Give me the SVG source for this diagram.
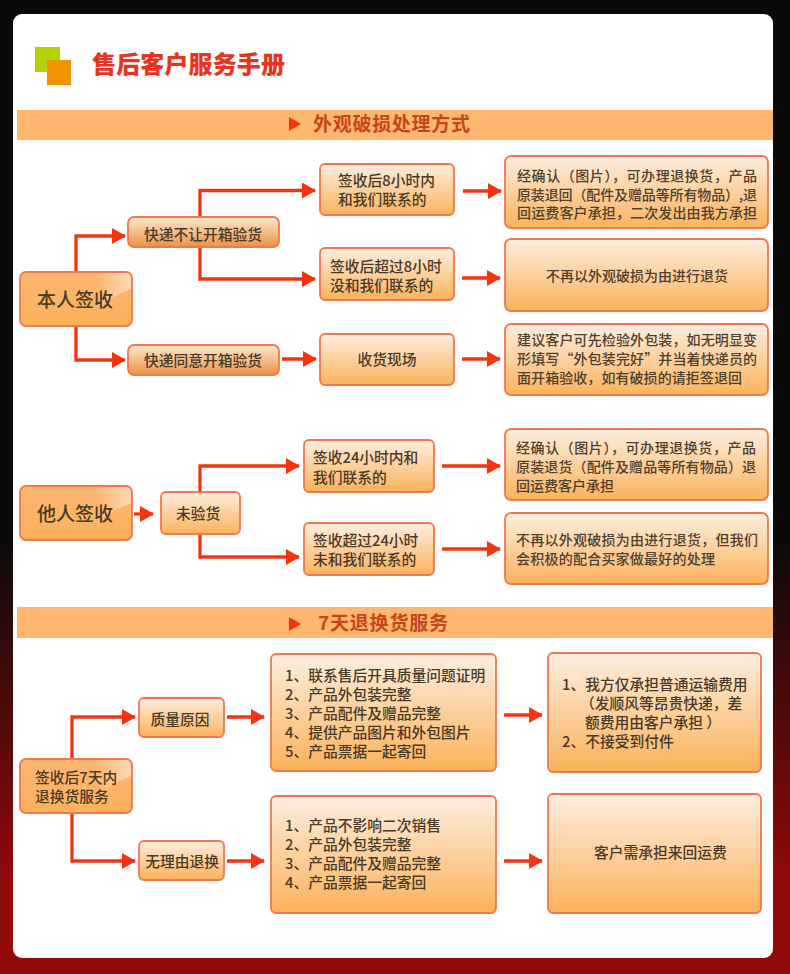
<svg xmlns="http://www.w3.org/2000/svg" width="790" height="974" viewBox="0 0 790 974">
<style>
text{font-family:"Noto Sans CJK SC","Liberation Sans",sans-serif;fill:#50402e;font-size:14px;font-weight:500}
.c{stroke:#f5330f;stroke-width:3.3;fill:none;marker-end:url(#ah)}
.a{fill:url(#ga);stroke:#f0784e;stroke-width:1.8}
.b{fill:url(#gb);stroke:#f0784e;stroke-width:1.8}
.d{fill:url(#gd);stroke:#f0784e;stroke-width:1.8}
.g{fill:url(#gg)}
.m{text-anchor:middle}
.k{font-size:19px;fill:#4a3a28}
.s{font-size:14.75px;fill:#4a3a28}
.h{font-size:19px;font-weight:700;fill:#c8451c}
.ban{fill:#fdb76f}
.tri{fill:#f5330f}
</style>
<defs>
<linearGradient id="bg" x1="0" y1="0" x2="0" y2="1"><stop offset="0.55" stop-color="#0a0a0a"/><stop offset="0.9" stop-color="#900a0a"/></linearGradient>
<linearGradient id="ga" x1="0" y1="0" x2="0" y2="1"><stop offset="0" stop-color="#fdeee0"/><stop offset="1" stop-color="#fbb25a"/></linearGradient>
<linearGradient id="gb" x1="0" y1="0" x2="0" y2="1"><stop offset="0" stop-color="#fde8d2"/><stop offset="1" stop-color="#ea933f"/></linearGradient>
<linearGradient id="gd" x1="0" y1="0" x2="0" y2="1"><stop offset="0" stop-color="#fbb673"/><stop offset="1" stop-color="#fcb159"/></linearGradient>
<linearGradient id="gg" x1="0" y1="0" x2="1" y2="0"><stop offset="0" stop-color="#fff" stop-opacity="0"/><stop offset="1" stop-color="#fff" stop-opacity=".55"/></linearGradient>
<marker id="ah" markerUnits="userSpaceOnUse" markerWidth="14" markerHeight="16" refX="13" refY="8" orient="auto"><path d="M0 0L14 8L0 16Z" fill="#f5330f"/></marker>
</defs>
<rect width="790" height="974" fill="url(#bg)"/>
<rect id="card" x="13" y="14" width="760" height="944" rx="9" fill="#fff"/>
<g id="header">
<rect x="35" y="47" width="25" height="25" fill="#b6d000"/>
<rect x="47" y="60" width="24" height="25" fill="#ef9400"/>
<text x="92" y="73" textLength="193" style="font-size:24px;font-weight:900;fill:#e5351f">售后客户服务手册</text>
</g>
<g id="banner1"><rect class="ban" x="17" y="110" width="756" height="30"/><path class="tri" d="M289 117L301 124L289 131Z"/><text class="h" x="313" y="131" textLength="157">外观破损处理方式</text></g>
<g id="banner2"><rect class="ban" x="17" y="607" width="756" height="31"/><path class="tri" d="M289 617L301 624L289 631Z"/><text class="h" x="318" y="630" textLength="130">7天退换货服务</text></g>
<g id="connectors">
<path class="c" d="M76 271V236H125"/>
<path class="c" d="M76 327V360H125"/>
<path class="c" d="M200 216V190.500H315"/>
<path class="c" d="M200 248V279H315"/>
<path class="c" d="M282 359H316"/>
<path class="c" d="M463 191H501"/>
<path class="c" d="M462 278H500"/>
<path class="c" d="M462 359H500"/>
<path class="c" d="M134 514H153"/>
<path class="c" d="M200 491V466H299"/>
<path class="c" d="M200 535V557H299"/>
<path class="c" d="M442 466H500"/>
<path class="c" d="M442 549H500"/>
<path class="c" d="M72 758V717H135"/>
<path class="c" d="M72 814V861H135"/>
<path class="c" d="M227 717H264"/>
<path class="c" d="M227 861H264"/>
<path class="c" d="M504 715H542"/>
<path class="c" d="M504 861H542"/>
</g>
<g id="n1"><rect class="d" x="20" y="272" width="112" height="54" rx="6"/><path class="g" d="M95 273H126a5 5 0 0 1 5 5V289Q112 296 95 310Z" opacity=".9"/><text class="k m" x="75" y="306.500">本人签收</text></g>
<g id="n2"><rect class="b" x="128" y="217" width="151" height="30" rx="6"/><text class="s m" x="203" y="239.500">快递不让开箱验货</text></g>
<g id="n3"><rect class="b" x="128" y="345" width="151" height="30" rx="6"/><text class="s m" x="203" y="365.500">快递同意开箱验货</text></g>
<g id="n4"><rect class="a" x="320" y="164" width="134" height="51" rx="5"/><text class="s" x="338" y="186">签收后8小时内</text><text class="s" x="338" y="205">和我们联系的</text></g>
<g id="n5"><rect class="a" x="320" y="248" width="134" height="52" rx="5"/><text class="s" x="330" y="272">签收后超过8小时</text><text class="s" x="330" y="291">没和我们联系的</text></g>
<g id="n6"><rect class="a" x="320" y="334" width="134" height="51" rx="5"/><text class="s m" x="387" y="364.500">收货现场</text></g>
<g id="n7"><rect class="a" x="505" y="156" width="263" height="72" rx="6"/><text x="517" y="180.500" textLength="240">经确认（图片），可办理退换货，产品</text><text x="517" y="199.500" textLength="240">原装退回（配件及赠品等所有物品）,退</text><text x="517" y="218" textLength="240">回运费客户承担，二次发出由我方承担</text></g>
<g id="n8"><rect class="a" x="505" y="239" width="263" height="72" rx="6"/><text x="546" y="280.500" textLength="182">不再以外观破损为由进行退货</text></g>
<g id="n9"><rect class="a" x="505" y="324" width="263" height="71" rx="6"/><text x="517" y="344.500" textLength="240">建议客户可先检验外包装，如无明显变</text><text x="517" y="363.500" textLength="240">形填写“外包装完好”并当着快递员的</text><text x="517" y="382.500" textLength="225">面开箱验收，如有破损的请拒签退回</text></g>
<g id="n10"><rect class="d" x="20" y="486" width="112" height="54" rx="6"/><path class="g" d="M95 487H126a5 5 0 0 1 5 5V503Q112 510 95 524Z" opacity=".9"/><text class="k m" x="75" y="520.500">他人签收</text></g>
<g id="n11"><rect class="a" x="161" y="492" width="79" height="42" rx="5"/><text class="s m" x="198" y="518.500">未验货</text></g>
<g id="n12"><rect class="a" x="304" y="440" width="130" height="52" rx="5"/><text class="s" x="313" y="462.500">签收24小时内和</text><text class="s" x="313" y="482.500">我们联系的</text></g>
<g id="n13"><rect class="a" x="304" y="523" width="130" height="52" rx="5"/><text class="s" x="313" y="545.500">签收超过24小时</text><text class="s" x="313" y="564.500">未和我们联系的</text></g>
<g id="n14"><rect class="a" x="505" y="429" width="263" height="71" rx="6"/><text x="516" y="452.500" textLength="240">经确认（图片），可办理退换货，产品</text><text x="516" y="471.500" textLength="240">原装退货（配件及赠品等所有物品）退</text><text x="516" y="490.500">回运费客户承担</text></g>
<g id="n15"><rect class="a" x="505" y="513" width="263" height="71" rx="6"/><text x="516" y="544.500" textLength="242">不再以外观破损为由进行退货，但我们</text><text x="516" y="563.500" textLength="199">会积极的配合买家做最好的处理</text></g>
<g id="n16"><rect class="d" x="20" y="759" width="112" height="54" rx="6"/><path class="g" d="M95 760H126a5 5 0 0 1 5 5V776Q112 783 95 797Z" opacity=".9"/><text class="s" x="35" y="782.500">签收后7天内</text><text class="s" x="35" y="801.500">退换货服务</text></g>
<g id="n17"><rect class="a" x="139" y="698" width="85" height="39" rx="5"/><text class="s m" x="180" y="724.500">质量原因</text></g>
<g id="n18"><rect class="a" x="139" y="841" width="85" height="39" rx="5"/><text class="s m" x="182" y="866.500">无理由退换</text></g>
<g id="n19"><rect class="a" x="271" y="654" width="225" height="117" rx="5"/><text class="s" x="285" y="680.500">1、联系售后开具质量问题证明</text><text class="s" x="285" y="699.500">2、产品外包装完整</text><text class="s" x="285" y="718.500">3、产品配件及赠品完整</text><text class="s" x="285" y="737.500">4、提供产品图片和外包图片</text><text class="s" x="285" y="756.500">5、产品票据一起寄回</text></g>
<g id="n20"><rect class="a" x="271" y="796" width="225" height="117" rx="5"/><text class="s" x="285" y="831">1、产品不影响二次销售</text><text class="s" x="285" y="850">2、产品外包装完整</text><text class="s" x="285" y="869">3、产品配件及赠品完整</text><text class="s" x="285" y="888">4、产品票据一起寄回</text></g>
<g id="n21"><rect class="a" x="548" y="653" width="213" height="119" rx="5"/><text class="s" x="562" y="689.500">1、我方仅承担普通运输费用</text><text class="s" x="580" y="708.500">（发顺风等昂贵快递，差</text><text class="s" x="585" y="727.500">额费用由客户承担 ）</text><text class="s" x="562" y="746.500">2、不接受到付件</text></g>
<g id="n22"><rect class="a" x="548" y="794" width="213" height="119" rx="5"/><text class="s" x="594" y="857.500">客户需承担来回运费</text></g>
</svg>
